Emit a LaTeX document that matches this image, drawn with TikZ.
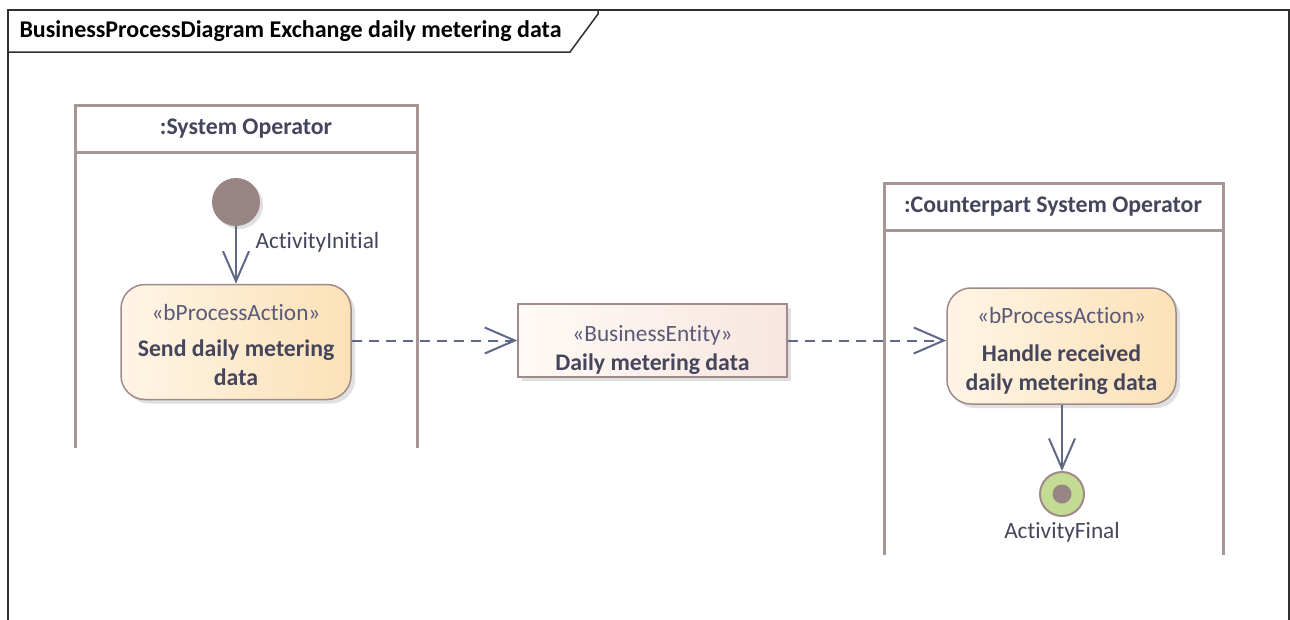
\documentclass[tikz,border=0pt]{standalone}
\usepackage{fontspec}
\setmainfont{Carlito}[Ligatures=NoCommon]
\usetikzlibrary{arrows.meta,shadows}
\definecolor{lanec}{HTML}{A69696}
\definecolor{framec}{HTML}{303030}
\definecolor{textc}{HTML}{45455C}
\definecolor{stereoc}{HTML}{5A5A78}
\definecolor{arrowc}{HTML}{5E6887}
\definecolor{actborder}{HTML}{A08A8A}
\definecolor{actleft}{HTML}{FFF5E6}
\definecolor{actright}{HTML}{FBE1B6}
\definecolor{entleft}{HTML}{FFFAF7}
\definecolor{entright}{HTML}{F7E6DF}
\definecolor{initc}{HTML}{9A8585}
\definecolor{finalc}{HTML}{C3DB93}
\newcommand{\bt}[1]{{\fontsize{23.8}{29}\selectfont\bfseries #1}}
\tikzset{
  txt/.style={font=\fontsize{23.3}{29}\selectfont, text=textc},
  boldtxt/.style={font=\fontsize{23.8}{29}\selectfont\bfseries, text=textc},
  lanebox/.style={draw=lanec, line width=3pt},
  actionbox/.style={draw=actborder, line width=1.5pt, rounded corners=24pt,
    left color=actleft, right color=actright,
    drop shadow={shadow xshift=4pt, shadow yshift=-4pt, fill=black!40, opacity=.3}},
  entitybox/.style={draw=actborder, line width=1.5pt,
    left color=entleft, right color=entright,
    drop shadow={shadow xshift=4pt, shadow yshift=-4pt, fill=black!40, opacity=.3}},
  boxtext/.style={txt, align=center, inner sep=0pt},
  flow/.style={draw=arrowc, line width=2pt, -{Straight Barb[length=30pt,width=26pt,line width=2pt]}},
  objflow/.style={flow, dash pattern=on 10pt off 7pt},
}
\begin{document}
\begin{tikzpicture}[x=1pt,y=-1pt]
\useasboundingbox[fill=white] (0,0) rectangle (1290,619);
% frame
\draw[framec, line width=1.5pt] (8,625) -- (8,10) -- (1289,10) -- (1289,625);
\draw[framec, line width=1.5pt] (8,52) -- (570,52) -- (598,14) -- (598,10);
\node[anchor=west, font=\fontsize{24}{26}\selectfont\bfseries, text=black] (title) at (16,31) {BusinessProcessDiagram Exchange daily metering data};
% lane 1
\draw[lanebox] (75,448) -- (75,105) -- (417,105) -- (417,448);
\draw[lanebox] (75,152) -- (417,152);
\node[boldtxt] (lane1) at (246,129) {:System Operator};
% lane 2
\draw[lanebox] (884,555) -- (884,183) -- (1223,183) -- (1223,555);
\draw[lanebox] (884,230) -- (1223,230);
\node[boldtxt] (lane2) at (1053,207) {:Counterpart System Operator};
% initial
\node[circle, fill=initc, minimum size=48pt, inner sep=0pt,
  drop shadow={shadow xshift=3pt, shadow yshift=-3pt, fill=black!40, opacity=.3}] (init) at (236,202) {};
\node[txt, anchor=west] (initlbl) at (252,242) {ActivityInitial};
% action 1
\node[actionbox, minimum width=230pt, minimum height=115pt, inner sep=0pt] (act1) at (236,342) {};
\node[boxtext] (act1txt) at (236,345)
  {\textcolor{stereoc}{«bProcessAction»}\\[7pt]\bt{Send daily metering}\\\bt{data}};
% entity
\node[entitybox, minimum width=269pt, minimum height=73pt, inner sep=0pt] (ent) at (652.5,340.5) {};
\node[boxtext] (enttxt) at (652.5,349.5)
  {\textcolor{stereoc}{«BusinessEntity»}\\\bt{Daily metering data}};
% action 2
\node[actionbox, minimum width=229pt, minimum height=116pt, inner sep=0pt] (act2) at (1061.5,346) {};
\node[boxtext] (act2txt) at (1061.5,350.5)
  {\textcolor{stereoc}{«bProcessAction»}\\[9pt]\bt{Handle received}\\\bt{daily metering data}};
% final
\node[circle, draw=actborder, line width=2pt, fill=finalc, minimum size=44pt, inner sep=0pt] (final) at (1062,494) {};
\node[circle, fill=initc, minimum size=19pt, inner sep=0pt] (finaldot) at (final) {};
\node[txt] (finallbl) at (1062,532) {ActivityFinal};
% connectors
\draw[flow] (init) -- (act1);
\draw[objflow] (act1.east |- ent.west) -- (ent.west);
\draw[objflow] (ent.east) -- (act2.west |- ent.east);
\draw[flow] (act2.south -| final) -- (final.north);
\end{tikzpicture}
\end{document}
